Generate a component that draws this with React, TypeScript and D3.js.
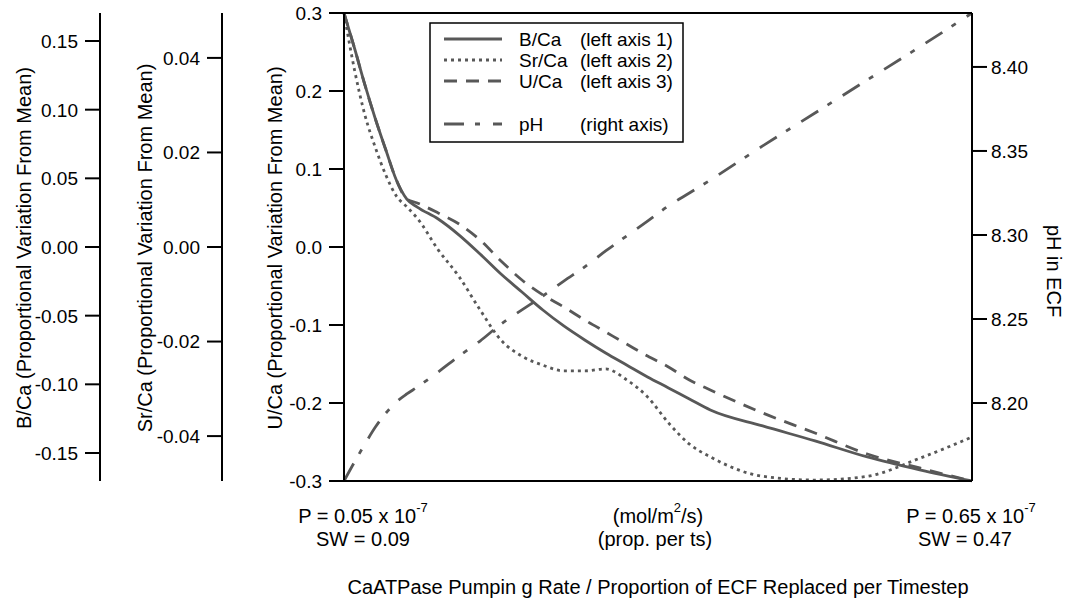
import React from "react";
import * as d3 from "d3";

// Pumping rate P (x 10^-7 mol/m2/s)
const pumpRate = [0.05, 0.06, 0.07, 0.08, 0.09, 0.10, 0.11, 0.12, 0.14, 0.16, 0.18, 0.20, 0.22, 0.24, 0.26, 0.28, 0.30, 0.32, 0.34, 0.36, 0.38, 0.40, 0.45, 0.50, 0.55, 0.60, 0.65];
const bCa = [0.1704, 0.1449, 0.1180, 0.0932, 0.0706, 0.0488, 0.0349, 0.0291, 0.0204, 0.0087, -0.0051, -0.0197, -0.0328, -0.0459, -0.0575, -0.0677, -0.0772, -0.0859, -0.0946, -0.1026, -0.1107, -0.1187, -0.1303, -0.1412, -0.1529, -0.1623, -0.1704];
const srCa = [0.0495, 0.0375, 0.0279, 0.0210, 0.0152, 0.0108, 0.0085, 0.0061, -0.0006, -0.0063, -0.0133, -0.0197, -0.0231, -0.0250, -0.0262, -0.0262, -0.0258, -0.0281, -0.0317, -0.0372, -0.0417, -0.0444, -0.0485, -0.0493, -0.0485, -0.0447, -0.0402];
const uCa = [0.300, 0.2551, 0.2077, 0.1641, 0.1244, 0.0859, 0.0615, 0.0564, 0.0436, 0.0295, 0.0090, -0.0179, -0.0423, -0.0615, -0.0769, -0.0936, -0.1090, -0.1244, -0.1397, -0.1538, -0.1705, -0.1833, -0.2128, -0.2385, -0.2654, -0.2833, -0.300];
const pH = [8.1536, 8.1649, 8.1756, 8.1857, 8.1940, 8.2006, 8.2054, 8.2095, 8.2185, 8.2280, 8.2369, 8.2470, 8.2554, 8.2637, 8.2726, 8.2810, 8.2905, 8.2994, 8.3083, 8.3173, 8.3250, 8.3327, 8.3530, 8.3726, 8.3923, 8.4119, 8.4321];

const bTicks = [0.15, 0.10, 0.05, 0.0, -0.05, -0.10, -0.15];
const srTicks = [0.04, 0.02, 0.0, -0.02, -0.04];
const uTicks = [0.3, 0.2, 0.1, 0.0, -0.1, -0.2, -0.3];
const phTicks = [8.40, 8.35, 8.30, 8.25, 8.20];

const DASH_SR = "3,4";
const DASH_U = "13,9";
const DASH_PH = "20,11,5,13";

const legendItems = [
  { name: "B/Ca", axis: "(left axis 1)", dash: "none" },
  { name: "Sr/Ca", axis: "(left axis 2)", dash: DASH_SR },
  { name: "U/Ca", axis: "(left axis 3)", dash: DASH_U },
  { name: "pH", axis: "(right axis)", dash: DASH_PH },
];

const FONT = "'Liberation Sans', Arial, Helvetica, sans-serif";
const LINE = "#585858";

export default function App() {
  const left = 344, right = 972, top = 13, bottom = 481;
  const x = d3.scaleLinear().domain([0.05, 0.65]).range([left, right]);
  const yU = d3.scaleLinear().domain([-0.3, 0.3]).range([bottom, top]);
  const yB = d3.scaleLinear().domain([-0.1704, 0.1704]).range([bottom, top]);
  const yS = d3.scaleLinear().domain([-0.0495, 0.0495]).range([bottom, top]);
  const yP = d3.scaleLinear().domain([8.1536, 8.4321]).range([bottom, top]);

  const mk = (ys: number[], sc: d3.ScaleLinear<number, number>) =>
    d3.line<number>().x((_, i) => x(pumpRate[i])).y((d) => sc(d)).curve(d3.curveMonotoneX)(ys) || "";

  const axisL = (ax: number, sc: d3.ScaleLinear<number, number>, ticks: number[], fmt: string, titleX: number, title: string) => (
    <g>
      <line x1={ax} x2={ax} y1={top} y2={bottom} stroke="#000" strokeWidth={2} />
      {ticks.map((t) => (
        <g key={t}>
          <line x1={ax - 15} x2={ax} y1={sc(t)} y2={sc(t)} stroke="#000" strokeWidth={2} />
          <text x={ax - 22} y={sc(t)} dy="0.36em" textAnchor="end" fontSize={19} fontFamily={FONT}>
            {d3.format(fmt)(t).replace("−", "-")}
          </text>
        </g>
      ))}
      <text transform={`translate(${titleX},248) rotate(-90)`} textAnchor="middle" fontSize={20} fontFamily={FONT}>
        {title}
      </text>
    </g>
  );

  return (
    <svg width={1070} height={601} style={{ position: "absolute", left: 0, top: 0, background: "#fff" }}>
      <rect x={0} y={0} width={1070} height={601} fill="#fff" />
      {/* data lines */}
      <path d={mk(pH, yP)} fill="none" stroke={LINE} strokeWidth={2.8} strokeDasharray={DASH_PH} />
      <path d={mk(uCa, yU)} fill="none" stroke={LINE} strokeWidth={2.8} strokeDasharray={DASH_U} />
      <path d={mk(srCa, yS)} fill="none" stroke={LINE} strokeWidth={2.8} strokeDasharray={DASH_SR} />
      <path d={mk(bCa, yB)} fill="none" stroke={LINE} strokeWidth={2.8} />

      {/* frame */}
      <line x1={left} x2={right} y1={top} y2={top} stroke="#000" strokeWidth={2} />
      <line x1={left} x2={right} y1={bottom} y2={bottom} stroke="#000" strokeWidth={2} />

      {axisL(100, yB, bTicks, ".2f", 31, "B/Ca (Proportional Variation From Mean)")}
      {axisL(222, yS, srTicks, ".2f", 152, "Sr/Ca (Proportional Variation From Mean)")}
      {axisL(344, yU, uTicks, ".1f", 282, "U/Ca (Proportional Variation From Mean)")}

      {/* right axis */}
      <line x1={right} x2={right} y1={top} y2={bottom} stroke="#000" strokeWidth={2} />
      {phTicks.map((t) => (
        <g key={t}>
          <line x1={right} x2={right + 15} y1={yP(t)} y2={yP(t)} stroke="#000" strokeWidth={2} />
          <text x={right + 19} y={yP(t)} dy="0.36em" fontSize={19} fontFamily={FONT}>
            {d3.format(".2f")(t)}
          </text>
        </g>
      ))}
      <text transform="translate(1047,271) rotate(90)" textAnchor="middle" fontSize={20} fontFamily={FONT}>
        pH in ECF
      </text>

      {/* legend */}
      <rect x={430} y={23} width={253} height={119} fill="#fff" stroke="#000" strokeWidth={1.5} />
      {legendItems.map((it, i) => {
        const cy = [39, 60, 81, 124][i];
        return (
          <g key={it.name}>
            <line x1={444} x2={502} y1={cy} y2={cy} stroke={LINE} strokeWidth={2.8} strokeDasharray={it.dash} />
            <text x={519} y={cy} dy="0.36em" fontSize={19} fontFamily={FONT}>{it.name}</text>
            <text x={580} y={cy} dy="0.36em" fontSize={19} fontFamily={FONT}>{it.axis}</text>
          </g>
        );
      })}

      {/* bottom labels */}
      <g fontFamily={FONT} fontSize={20}>
        <text x={363} y={523} textAnchor="middle">
          P = 0.05 x 10<tspan dy={-11} fontSize={13}>-7</tspan>
        </text>
        <text x={363} y={546} textAnchor="middle">SW = 0.09</text>
        <text x={658} y={523} textAnchor="middle">
          (mol/m<tspan dy={-11} fontSize={13}>2</tspan><tspan dy={11}>/s)</tspan>
        </text>
        <text x={655} y={546} textAnchor="middle">(prop. per ts)</text>
        <text x={971} y={523} textAnchor="middle">
          P = 0.65 x 10<tspan dy={-11} fontSize={13}>-7</tspan>
        </text>
        <text x={965} y={546} textAnchor="middle">SW = 0.47</text>
        <text x={658} y={594} textAnchor="middle">
          CaATPase Pumpin g Rate / Proportion of ECF Replaced per Timestep
        </text>
      </g>
    </svg>
  );
}
